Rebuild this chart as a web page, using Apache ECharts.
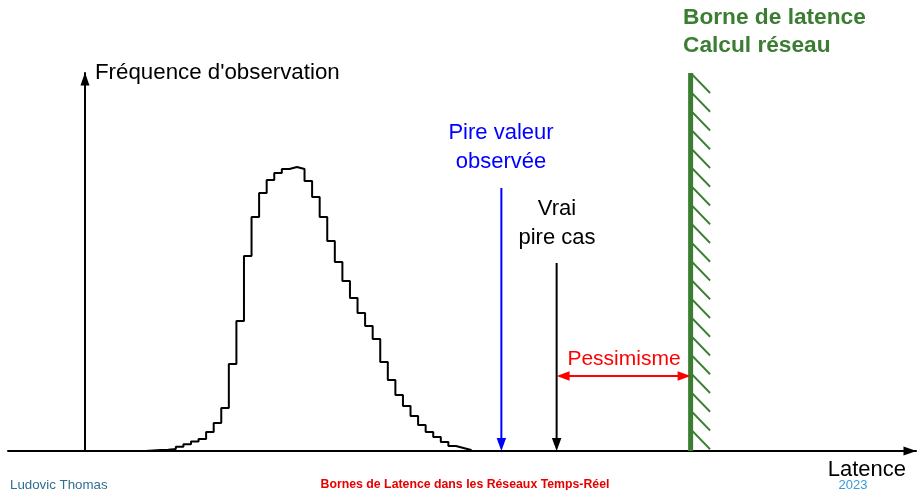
<!DOCTYPE html>
<html>
<head>
<meta charset="utf-8">
<script src="https://cdn.jsdelivr.net/npm/echarts@6/dist/echarts.min.js"></script>
<style>
  html, body { margin: 0; padding: 0; background: #fff; }
  #chart { width: 917px; height: 490px; }
</style>
</head>
<body>
<div id="chart"></div>
<script>
// Observed latency histogram: one bin per latency unit, first bin starts at binStart
const binStart = 8;
const binCounts = [0.5, 1, 1.3, 2, 4.3, 6.7, 9.5, 12, 19, 28,
                   43, 87, 130, 195, 234, 258, 271, 278, 282, 284,
                   282, 270, 254, 234, 210, 189, 170, 153, 138, 125,
                   112, 89, 71, 56, 45, 35, 26, 19, 14, 9,
                   5, 3, 1];

// Key latencies
const worstObserved = 55;   // Pire valeur observée
const trueWorst = 62.3;     // Vrai pire cas
const latencyBound = 80;    // Borne de latence (calcul réseau)

// Frequency levels used by the annotations
const freqMax = 378;
const observedArrowTop = 263;
const trueArrowTop = 188;
const pessimismLevel = 75;

const FONT = '"Liberation Sans", Arial, sans-serif';
const GREEN = '#3b7d32';
const BLUE = '#0000ff';
const RED = '#ff0000';

// Step outline of the histogram
const histPoints = [[binStart, 0]];
binCounts.forEach((c, i) => histPoints.push([binStart + i, c]));
histPoints.push([binStart + binCounts.length, 0]);

function arrowShapes(p0, p1, color, both) {
  const HL = 13, HW = 9.5;
  const dx = p1[0] - p0[0], dy = p1[1] - p0[1];
  const len = Math.sqrt(dx * dx + dy * dy);
  const ux = dx / len, uy = dy / len, nx = -uy, ny = ux;
  const head = (tip, sx, sy) => ({
    type: 'polygon',
    shape: { points: [
      [tip[0], tip[1]],
      [tip[0] - sx * HL + nx * HW / 2, tip[1] - sy * HL + ny * HW / 2],
      [tip[0] - sx * HL - nx * HW / 2, tip[1] - sy * HL - ny * HW / 2]
    ] },
    style: { fill: color }
  });
  const a = both ? [p0[0] + ux * (HL - 2), p0[1] + uy * (HL - 2)] : p0;
  const b = [p1[0] - ux * (HL - 2), p1[1] - uy * (HL - 2)];
  const out = [
    { type: 'line', shape: { x1: a[0], y1: a[1], x2: b[0], y2: b[1] },
      style: { stroke: color, lineWidth: 2 } },
    head(p1, ux, uy)
  ];
  if (both) out.push(head(p0, -ux, -uy));
  return out;
}

function arrowSeries(data, color, both) {
  return {
    type: 'custom',
    silent: true,
    data: [data],
    renderItem: function (params, api) {
      const p0 = api.coord([api.value(0), api.value(1)]);
      const p1 = api.coord([api.value(2), api.value(3)]);
      return { type: 'group', children: arrowShapes(p0, p1, color, both) };
    }
  };
}

const boundSeries = {
  type: 'custom',
  silent: true,
  data: [[latencyBound, freqMax]],
  renderItem: function (params, api) {
    const base = api.coord([api.value(0), 0]);
    const top = api.coord([api.value(0), api.value(1)]);
    const children = [{
      type: 'line',
      shape: { x1: base[0], y1: base[1], x2: top[0], y2: top[1] },
      style: { stroke: GREEN, lineWidth: 5 }
    }];
    // hatching on the right side of the bound
    for (let y = top[1] + 2; y < base[1] - 1; y += 18.75) {
      const y2 = Math.min(y + 18, base[1]);
      children.push({
        type: 'line',
        shape: { x1: top[0] + 2, y1: y, x2: top[0] + 2 + (y2 - y) * 0.97, y2: y2 },
        style: { stroke: GREEN, lineWidth: 1.8 }
      });
    }
    return { type: 'group', children: children };
  }
};

function label(text, x, y, opts) {
  const align = opts.align || 'center';
  return {
    type: 'text', x: x, y: y, silent: true,
    style: {
      text: text,
      font: (opts.weight || 'normal') + ' ' + opts.size + 'px ' + FONT,
      fill: opts.color || '#000',
      align: align, textAlign: align,
      verticalAlign: 'middle', textVerticalAlign: 'middle'
    }
  };
}

const chart = echarts.init(document.getElementById('chart'), null, { renderer: 'canvas' });
const axisLine = {
  show: true,
  onZero: true,
  lineStyle: { color: '#000', width: 2 },
  symbol: ['none', 'triangle'],
  symbolSize: [9, 13],
  symbolOffset: [0, -6]
};

chart.setOption({
  animation: false,
  backgroundColor: '#fff',
  grid: { left: 8, right: 1, top: 73, bottom: 39 },
  xAxis: {
    type: 'value', min: -10.17, max: 109.77,
    axisLine: axisLine,
    axisTick: { show: false }, axisLabel: { show: false }, splitLine: { show: false }
  },
  yAxis: {
    type: 'value', min: 0, max: freqMax,
    axisLine: axisLine,
    axisTick: { show: false }, axisLabel: { show: false }, splitLine: { show: false }
  },
  series: [
    {
      type: 'line',
      step: 'end',
      data: histPoints,
      showSymbol: false,
      silent: true,
      lineStyle: { color: '#000', width: 2 }
    },
    boundSeries,
    arrowSeries([worstObserved, observedArrowTop, worstObserved, 0], BLUE, false),
    arrowSeries([trueWorst, trueArrowTop, trueWorst, 0], '#000', false),
    arrowSeries([trueWorst, pessimismLevel, latencyBound, pessimismLevel], RED, true)
  ],
  graphic: [
    label("Fréquence d'observation", 95, 73, { size: 22.3, align: 'left' }),
    label('Pire valeur', 501, 133, { size: 22, color: BLUE }),
    label('observée', 501, 162, { size: 22, color: BLUE }),
    label('Vrai', 557, 209, { size: 22 }),
    label('pire cas', 557, 238, { size: 22 }),
    label('Pessimisme', 624, 359, { size: 21, color: RED }),
    label('Borne de latence', 683, 18, { size: 22.7, weight: 'bold', color: GREEN, align: 'left' }),
    label('Calcul réseau', 683, 46, { size: 22.7, weight: 'bold', color: GREEN, align: 'left' }),
    label('Latence', 906, 470, { size: 22, align: 'right' }),
    label('Ludovic Thomas', 10, 485, { size: 13.3, color: '#2f6f8f', align: 'left' }),
    label('Bornes de Latence dans les Réseaux Temps-Réel', 465, 485, { size: 12.3, weight: 'bold', color: '#e60000' }),
    label('2023', 853, 485, { size: 13, color: '#3a9ad9' })
  ]
});
</script>
</body>
</html>
